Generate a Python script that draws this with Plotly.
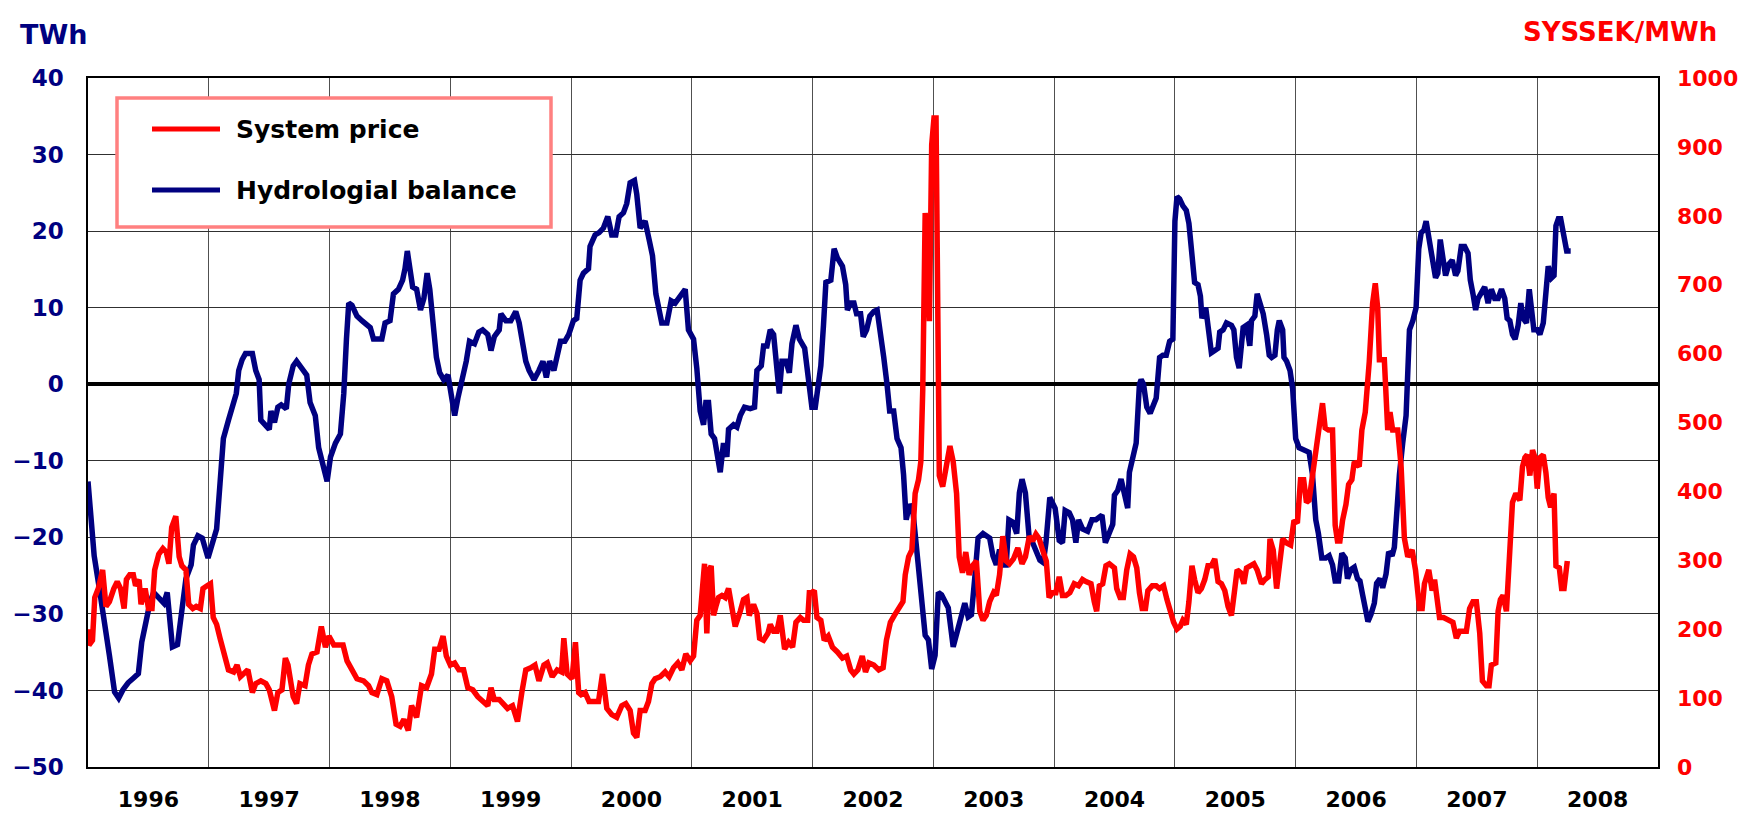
import plotly.graph_objects as go

# ---------------- data ----------------
hydro_year = [
    1996.000, 1996.023, 1996.051, 1996.093, 1996.135, 1996.177, 1996.220, 1996.254, 1996.290, 1996.332,
    1996.375, 1996.417, 1996.445, 1996.473, 1996.515, 1996.544, 1996.586, 1996.628, 1996.656, 1996.699,
    1996.741, 1996.777, 1996.811, 1996.854, 1996.873, 1996.910, 1996.946, 1996.994, 1997.037, 1997.065,
    1997.093, 1997.121, 1997.163, 1997.206, 1997.228, 1997.248, 1997.276, 1997.304, 1997.361, 1997.389,
    1997.417, 1997.431, 1997.473, 1997.501, 1997.515, 1997.544, 1997.572, 1997.600, 1997.642, 1997.662,
    1997.699, 1997.727, 1997.769, 1997.811, 1997.839, 1997.882, 1997.910, 1997.952, 1997.980, 1998.008,
    1998.049, 1998.090, 1998.118, 1998.140, 1998.159, 1998.186, 1998.227, 1998.268, 1998.310, 1998.337,
    1998.364, 1998.433, 1998.460, 1998.501, 1998.529, 1998.570, 1998.605, 1998.625, 1998.644, 1998.666,
    1998.688, 1998.721, 1998.753, 1998.781, 1998.808, 1998.830, 1998.858, 1998.885, 1998.912, 1998.945,
    1998.981, 1999.008, 1999.036, 1999.063, 1999.090, 1999.132, 1999.159, 1999.200, 1999.236, 1999.268,
    1999.310, 1999.337, 1999.364, 1999.405, 1999.419, 1999.460, 1999.501, 1999.542, 1999.570, 1999.597,
    1999.625, 1999.652, 1999.693, 1999.734, 1999.767, 1999.795, 1999.822, 1999.858, 1999.885, 1999.912,
    1999.948, 1999.981, 2000.019, 2000.047, 2000.075, 2000.102, 2000.144, 2000.157, 2000.199, 2000.232,
    2000.268, 2000.304, 2000.337, 2000.370, 2000.398, 2000.434, 2000.461, 2000.489, 2000.525, 2000.544,
    2000.572, 2000.613, 2000.646, 2000.674, 2000.702, 2000.751, 2000.793, 2000.829, 2000.862, 2000.903,
    2000.945, 2000.972, 2001.014, 2001.041, 2001.069, 2001.097, 2001.116, 2001.138, 2001.160, 2001.188,
    2001.215, 2001.235, 2001.262, 2001.290, 2001.304, 2001.345, 2001.373, 2001.401, 2001.436, 2001.483,
    2001.519, 2001.539, 2001.575, 2001.594, 2001.622, 2001.649, 2001.677, 2001.704, 2001.724, 2001.746,
    2001.779, 2001.807, 2001.829, 2001.862, 2001.890, 2001.934, 2001.967, 2001.994, 2002.022, 2002.050,
    2002.068, 2002.090, 2002.110, 2002.151, 2002.178, 2002.205, 2002.247, 2002.274, 2002.288, 2002.315,
    2002.342, 2002.364, 2002.397, 2002.419, 2002.447, 2002.474, 2002.507, 2002.534, 2002.567, 2002.589,
    2002.616, 2002.638, 2002.671, 2002.699, 2002.732, 2002.753, 2002.775, 2002.803, 2002.830, 2002.863,
    2002.890, 2002.918, 2002.932, 2002.959, 2002.986, 2003.014, 2003.041, 2003.068, 2003.096, 2003.123,
    2003.164, 2003.192, 2003.219, 2003.260, 2003.288, 2003.315, 2003.342, 2003.370, 2003.411, 2003.466,
    2003.493, 2003.521, 2003.548, 2003.575, 2003.603, 2003.625, 2003.658, 2003.690, 2003.712, 2003.734,
    2003.762, 2003.795, 2003.822, 2003.849, 2003.882, 2003.910, 2003.932, 2003.964, 2004.008, 2004.042,
    2004.069, 2004.091, 2004.125, 2004.152, 2004.180, 2004.202, 2004.235, 2004.277, 2004.313, 2004.346,
    2004.374, 2004.396, 2004.424, 2004.457, 2004.485, 2004.499, 2004.526, 2004.554, 2004.582, 2004.609,
    2004.623, 2004.651, 2004.679, 2004.706, 2004.720, 2004.740, 2004.767, 2004.795, 2004.817, 2004.845,
    2004.873, 2004.900, 2004.928, 2004.956, 2004.983, 2005.000, 2005.017, 2005.039, 2005.066, 2005.094,
    2005.116, 2005.136, 2005.150, 2005.163, 2005.191, 2005.211, 2005.224, 2005.255, 2005.283, 2005.302,
    2005.330, 2005.357, 2005.371, 2005.399, 2005.427, 2005.468, 2005.488, 2005.510, 2005.532, 2005.551,
    2005.565, 2005.593, 2005.620, 2005.634, 2005.662, 2005.681, 2005.704, 2005.731, 2005.759, 2005.781,
    2005.801, 2005.828, 2005.848, 2005.864, 2005.892, 2005.903, 2005.925, 2005.953, 2005.975, 2005.990,
    2006.000, 2006.028, 2006.069, 2006.111, 2006.139, 2006.166, 2006.188, 2006.216, 2006.249, 2006.277,
    2006.305, 2006.327, 2006.355, 2006.382, 2006.410, 2006.429, 2006.457, 2006.485, 2006.512, 2006.532,
    2006.554, 2006.582, 2006.598, 2006.623, 2006.651, 2006.670, 2006.698, 2006.720, 2006.748, 2006.770,
    2006.798, 2006.817, 2006.831, 2006.859, 2006.886, 2006.914, 2006.942, 2006.970, 2006.997, 2007.019,
    2007.039, 2007.061, 2007.080, 2007.102, 2007.130, 2007.158, 2007.177, 2007.197, 2007.219, 2007.241,
    2007.269, 2007.296, 2007.324, 2007.343, 2007.371, 2007.399, 2007.427, 2007.446, 2007.468, 2007.490,
    2007.510, 2007.537, 2007.565, 2007.593, 2007.620, 2007.648, 2007.676, 2007.704, 2007.731, 2007.751,
    2007.773, 2007.795, 2007.817, 2007.842, 2007.864, 2007.884, 2007.911, 2007.934, 2007.953, 2007.972,
    2008.000, 2008.022, 2008.050, 2008.072, 2008.091, 2008.119, 2008.139, 2008.155, 2008.175, 2008.194,
    2008.216, 2008.230, 2008.244, 2008.277,
]
hydro_twh = [
    -12.7, -17.7, -22.4, -26.6, -30.7, -35.4, -40.2, -41.0, -39.9, -39.0,
    -38.4, -37.8, -33.7, -31.3, -28.4, -27.2, -27.8, -28.6, -27.2, -34.3,
    -34.0, -29.5, -25.4, -23.6, -21.0, -19.8, -20.1, -22.7, -20.4, -18.9,
    -13.0, -7.1, -4.7, -2.1, -1.2, 1.8, 3.2, 4.0, 4.0, 1.8,
    0.6, -4.7, -5.6, -5.9, -3.5, -5.0, -3.0, -2.7, -3.2, 0.0,
    2.4, 3.0, 2.1, 1.2, -2.4, -4.1, -8.3, -10.6, -12.7, -9.5,
    -7.7, -6.5, -1.2, 5.9, 10.6, 10.3, 8.9, 8.3, 7.7, 7.4,
    5.9, 5.9, 8.0, 8.3, 11.8, 12.4, 13.6, 15.1, 17.4, 14.8,
    12.7, 12.4, 9.7, 11.2, 14.5, 12.4, 7.1, 3.5, 1.5, 0.6,
    1.2, -1.8, -4.1, -1.8, 0.0, 3.0, 5.6, 5.3, 6.8, 7.1,
    6.5, 4.4, 6.2, 7.1, 9.2, 8.3, 8.3, 9.5, 8.0, 5.3,
    3.0, 1.8, 0.6, 1.8, 3.0, 0.9, 3.0, 1.8, 3.5, 5.6,
    5.6, 6.5, 8.3, 8.6, 13.6, 14.5, 15.1, 18.0, 19.5, 19.8,
    20.4, 21.9, 19.5, 19.5, 21.9, 22.4, 23.6, 26.3, 26.6, 24.8,
    20.4, 21.3, 18.9, 16.8, 11.8, 8.0, 8.0, 10.9, 10.6, 11.5,
    12.4, 7.1, 5.9, 2.1, -3.5, -5.3, -2.4, -2.4, -6.5, -7.1,
    -9.5, -11.5, -7.7, -9.5, -5.9, -5.3, -5.6, -4.1, -3.0, -3.2,
    -3.0, 1.8, 2.4, 5.0, 5.0, 7.1, 6.5, 2.4, -1.2, 3.0,
    3.0, 1.5, 5.3, 7.7, 5.9, 4.7, 0.6, -3.0, -3.0, 0.0,
    2.4, 7.7, 13.3, 13.6, 17.7, 16.5, 15.4, 13.0, 9.7, 10.6,
    10.6, 9.2, 9.2, 6.2, 7.1, 8.9, 9.5, 9.7, 6.5, 3.5,
    0.0, -3.5, -3.5, -7.1, -8.3, -11.8, -17.7, -15.7, -16.5, -21.3,
    -25.4, -29.5, -32.8, -33.4, -37.2, -35.4, -27.2, -27.5, -28.4, -29.2,
    -34.3, -32.5, -31.0, -28.6, -30.4, -30.1, -25.4, -20.1, -19.5, -20.1,
    -22.4, -23.6, -21.6, -23.6, -23.6, -17.7, -18.0, -19.5, -14.2, -12.4,
    -14.2, -20.4, -20.7, -21.9, -23.0, -23.3, -20.7, -14.8, -16.2, -20.4,
    -20.7, -16.5, -16.8, -17.7, -20.7, -17.7, -18.9, -19.2, -17.7, -17.7,
    -17.4, -17.1, -20.7, -19.5, -18.3, -14.5, -13.9, -12.4, -14.8, -16.2,
    -11.5, -9.5, -7.7, 0.0, 0.6, 0.0, -3.0, -3.8, -3.0, -1.8,
    3.5, 3.8, 3.8, 5.6, 5.9, 21.3, 24.5, 24.2, 23.3, 22.7,
    21.0, 17.7, 14.2, 13.3, 13.0, 11.5, 8.6, 10.0, 6.5, 4.1,
    4.4, 4.7, 6.8, 7.1, 8.0, 7.7, 7.1, 3.5, 2.1, 4.7,
    7.4, 7.7, 5.0, 8.3, 8.9, 11.8, 10.6, 9.2, 6.5, 3.8,
    3.5, 3.8, 7.1, 8.3, 7.1, 3.5, 3.0, 1.8, -0.6, -3.5,
    -7.1, -8.3, -8.6, -8.9, -11.8, -17.7, -19.5, -22.7, -22.7, -22.4,
    -23.6, -25.7, -25.7, -22.1, -22.7, -25.4, -24.2, -23.9, -25.4, -25.7,
    -27.5, -29.5, -31.0, -30.1, -28.6, -26.0, -25.4, -26.6, -24.8, -21.9,
    -22.4, -21.3, -17.7, -11.8, -7.7, -4.1, 7.1, 8.3, 10.0, 17.7,
    19.8, 20.1, 21.3, 18.9, 16.5, 13.9, 14.5, 18.9, 16.5, 14.2,
    15.7, 16.2, 14.2, 14.8, 18.0, 18.0, 17.1, 13.6, 11.8, 9.7,
    11.2, 12.1, 12.7, 10.6, 12.4, 11.2, 11.2, 12.4, 11.2, 8.6,
    8.3, 6.5, 5.9, 7.7, 10.6, 8.6, 8.0, 12.4, 9.5, 7.1,
    7.1, 6.5, 8.0, 11.8, 15.4, 13.9, 14.2, 20.7, 21.6, 21.6,
    20.1, 18.9, 17.4, 17.4,
]

price_year = [
    1996.000, 1996.008, 1996.037, 1996.056, 1996.085, 1996.121, 1996.149, 1996.177, 1996.214, 1996.242,
    1996.270, 1996.299, 1996.318, 1996.346, 1996.375, 1996.394, 1996.423, 1996.439, 1996.473, 1996.501,
    1996.530, 1996.552, 1996.586, 1996.620, 1996.648, 1996.670, 1996.693, 1996.727, 1996.755, 1996.777,
    1996.811, 1996.834, 1996.868, 1996.896, 1996.930, 1996.952, 1996.986, 1997.014, 1997.037, 1997.065,
    1997.093, 1997.121, 1997.163, 1997.206, 1997.234, 1997.262, 1997.290, 1997.324, 1997.361, 1997.389,
    1997.431, 1997.473, 1997.501, 1997.544, 1997.572, 1997.606, 1997.634, 1997.656, 1997.699, 1997.727,
    1997.755, 1997.797, 1997.825, 1997.854, 1997.896, 1997.932, 1997.966, 1997.995, 1998.036, 1998.077,
    1998.112, 1998.145, 1998.186, 1998.227, 1998.282, 1998.323, 1998.351, 1998.392, 1998.433, 1998.474,
    1998.515, 1998.551, 1998.584, 1998.616, 1998.652, 1998.679, 1998.721, 1998.762, 1998.803, 1998.844,
    1998.871, 1998.907, 1998.940, 1998.967, 1999.000, 1999.036, 1999.071, 1999.110, 1999.145, 1999.186,
    1999.227, 1999.268, 1999.310, 1999.337, 1999.364, 1999.405, 1999.447, 1999.474, 1999.515, 1999.556,
    1999.592, 1999.625, 1999.666, 1999.701, 1999.734, 1999.775, 1999.803, 1999.844, 1999.885, 1999.921,
    1999.940, 1999.967, 2000.008, 2000.036, 2000.063, 2000.083, 2000.116, 2000.149, 2000.185, 2000.227,
    2000.260, 2000.296, 2000.337, 2000.378, 2000.420, 2000.453, 2000.489, 2000.517, 2000.544, 2000.572,
    2000.613, 2000.641, 2000.669, 2000.696, 2000.738, 2000.779, 2000.812, 2000.848, 2000.884, 2000.917,
    2000.950, 2000.986, 2001.014, 2001.041, 2001.069, 2001.088, 2001.105, 2001.124, 2001.144, 2001.160,
    2001.180, 2001.199, 2001.221, 2001.249, 2001.276, 2001.304, 2001.331, 2001.359, 2001.401, 2001.428,
    2001.456, 2001.475, 2001.511, 2001.539, 2001.561, 2001.594, 2001.630, 2001.649, 2001.677, 2001.704,
    2001.732, 2001.768, 2001.801, 2001.834, 2001.862, 2001.898, 2001.925, 2001.959, 2001.973, 2001.992,
    2002.014, 2002.036, 2002.068, 2002.096, 2002.129, 2002.164, 2002.205, 2002.247, 2002.282, 2002.315,
    2002.342, 2002.375, 2002.411, 2002.438, 2002.466, 2002.507, 2002.548, 2002.584, 2002.611, 2002.644,
    2002.677, 2002.712, 2002.748, 2002.767, 2002.795, 2002.822, 2002.849, 2002.877, 2002.896, 2002.912,
    2002.932, 2002.951, 2002.967, 2002.986, 2003.005, 2003.022, 2003.033, 2003.049, 2003.077, 2003.104,
    2003.137, 2003.164, 2003.192, 2003.214, 2003.241, 2003.268, 2003.296, 2003.323, 2003.356, 2003.384,
    2003.411, 2003.438, 2003.466, 2003.499, 2003.521, 2003.548, 2003.575, 2003.603, 2003.630, 2003.663,
    2003.699, 2003.734, 2003.762, 2003.795, 2003.822, 2003.849, 2003.877, 2003.904, 2003.935, 2003.958,
    2003.986, 2004.014, 2004.042, 2004.069, 2004.097, 2004.130, 2004.166, 2004.202, 2004.235, 2004.263,
    2004.305, 2004.332, 2004.352, 2004.374, 2004.402, 2004.429, 2004.457, 2004.499, 2004.518, 2004.546,
    2004.573, 2004.601, 2004.629, 2004.657, 2004.684, 2004.706, 2004.729, 2004.756, 2004.776, 2004.812,
    2004.845, 2004.873, 2004.906, 2004.934, 2004.961, 2004.989, 2005.017, 2005.044, 2005.066, 2005.094,
    2005.116, 2005.141, 2005.163, 2005.191, 2005.219, 2005.247, 2005.274, 2005.302, 2005.330, 2005.357,
    2005.385, 2005.413, 2005.440, 2005.468, 2005.496, 2005.515, 2005.543, 2005.571, 2005.593, 2005.626,
    2005.654, 2005.681, 2005.717, 2005.745, 2005.773, 2005.787, 2005.814, 2005.842, 2005.864, 2005.892,
    2005.925, 2005.958, 2005.986, 2006.014, 2006.040, 2006.066, 2006.089, 2006.111, 2006.139, 2006.166,
    2006.194, 2006.222, 2006.244, 2006.271, 2006.305, 2006.327, 2006.346, 2006.366, 2006.388, 2006.416,
    2006.438, 2006.465, 2006.485, 2006.526, 2006.548, 2006.576, 2006.609, 2006.637, 2006.659, 2006.679,
    2006.693, 2006.734, 2006.762, 2006.781, 2006.803, 2006.845, 2006.873, 2006.900, 2006.928, 2006.964,
    2006.992, 2007.025, 2007.047, 2007.066, 2007.102, 2007.130, 2007.150, 2007.163, 2007.191, 2007.224,
    2007.260, 2007.302, 2007.330, 2007.357, 2007.385, 2007.413, 2007.440, 2007.468, 2007.496, 2007.524,
    2007.546, 2007.579, 2007.601, 2007.620, 2007.657, 2007.676, 2007.695, 2007.717, 2007.745, 2007.767,
    2007.795, 2007.823, 2007.856, 2007.878, 2007.898, 2007.917, 2007.939, 2007.961, 2007.981, 2008.000,
    2008.022, 2008.050, 2008.072, 2008.091, 2008.111, 2008.139, 2008.155, 2008.183, 2008.202, 2008.222,
    2008.238, 2008.249,
]
price_sek = [
    200, 177, 184, 246, 259, 286, 233, 240, 259, 269,
    259, 230, 272, 279, 279, 263, 272, 236, 259, 230,
    230, 286, 309, 317, 312, 295, 348, 364, 305, 292,
    286, 236, 230, 233, 230, 259, 263, 266, 217, 207,
    187, 167, 141, 138, 148, 131, 135, 141, 108, 121,
    125, 121, 112, 82, 108, 112, 158, 148, 102, 92,
    121, 118, 148, 164, 167, 204, 174, 190, 177, 177,
    177, 154, 141, 128, 125, 118, 108, 105, 128, 125,
    102, 62, 59, 69, 53, 89, 72, 118, 115, 135,
    171, 171, 190, 161, 148, 151, 141, 141, 115, 112,
    102, 95, 89, 115, 98, 98, 89, 85, 89, 66,
    108, 141, 144, 148, 125, 148, 151, 131, 141, 138,
    187, 135, 128, 181, 108, 105, 108, 95, 95, 95,
    135, 85, 76, 72, 89, 92, 82, 49, 43, 82,
    82, 95, 121, 128, 131, 138, 131, 144, 151, 141,
    164, 154, 161, 213, 220, 253, 295, 194, 286, 292,
    220, 233, 246, 249, 246, 259, 233, 204, 226, 243,
    246, 220, 236, 223, 187, 184, 194, 207, 197, 197,
    220, 171, 181, 174, 210, 217, 213, 213, 253, 253,
    256, 217, 213, 184, 190, 174, 167, 158, 161, 141,
    135, 141, 161, 138, 151, 148, 141, 144, 184, 210,
    220, 230, 240, 279, 305, 315, 397, 417, 443, 548,
    804, 752, 647, 903, 942, 942, 686, 423, 407, 430,
    466, 443, 397, 305, 282, 312, 279, 292, 299, 226,
    213, 220, 240, 253, 249, 279, 335, 299, 295, 302,
    318, 295, 305, 335, 328, 338, 331, 315, 299, 246,
    253, 253, 276, 249, 249, 253, 266, 263, 272, 269,
    266, 240, 226, 263, 266, 292, 295, 289, 259, 246,
    246, 286, 309, 305, 289, 253, 230, 230, 256, 263,
    263, 259, 263, 243, 226, 210, 200, 204, 213, 207,
    240, 292, 272, 253, 259, 272, 292, 292, 302, 269,
    266, 256, 233, 220, 259, 286, 282, 266, 289, 292,
    295, 286, 266, 272, 276, 331, 315, 259, 299, 331,
    325, 322, 358, 354, 417, 417, 384, 387, 423, 456,
    502, 528, 492, 489, 489, 351, 328, 328, 358, 381,
    410, 417, 443, 436, 489, 515, 588, 673, 702, 666,
    591, 591, 489, 515, 489, 489, 436, 332, 305, 315,
    286, 230, 230, 266, 286, 256, 272, 256, 217, 217,
    213, 210, 187, 197, 197, 197, 230, 240, 240, 194,
    125, 118, 118, 148, 151, 226, 243, 249, 226, 286,
    384, 397, 387, 436, 449, 453, 423, 460, 449, 404,
    449, 453, 427, 391, 377, 397, 292, 289, 259, 259,
    292, 299,
]

years = list(range(1996, 2009))
year_labels = ["1996", "1997", "1998", "1999", "2000", "2001", "2002",
               "2003", "2004", "2005", "2006", "2007", "2008"]

# ---------------- layout geometry ----------------
W, H = 1756, 816
L, R, T, B = 80, 106, 70, 57
PW = W - L - R
PH = H - T - B


def px(x):
    return (x - L) / PW


def py(y):
    return (H - B - y) / PH


FONT = "DejaVu Sans"
NAVY = "#000080"
RED = "#FF0000"

fig = go.Figure()
fig.add_trace(go.Scatter(
    x=hydro_year, y=hydro_twh, mode="lines", name="Hydrologial balance",
    line=dict(color=NAVY, width=5.5), yaxis="y"))
fig.add_trace(go.Scatter(
    x=price_year, y=price_sek, mode="lines", name="System price",
    line=dict(color=RED, width=5.5), yaxis="y2"))

fig.update_layout(
    width=W, height=H,
    margin=dict(l=L, r=R, t=T, b=B, autoexpand=False),
    paper_bgcolor="white", plot_bgcolor="white",
    showlegend=False,
    font=dict(family=FONT, size=22, color="black"),
    xaxis=dict(
        range=[1996, 2009],
        tickmode="array",
        tickvals=[y + 0.5 for y in years],
        ticktext=year_labels,
        showgrid=False, zeroline=False,
        showline=True, mirror=True, linecolor="black", linewidth=1.5,
        ticks="",
        tickfont=dict(family=FONT, size=22, color="black", weight="bold"),
        ticklabelstandoff=12,
        minor=dict(tickmode="array", tickvals=years[1:], showgrid=True,
                   gridcolor="#505050", gridwidth=1, ticks=""),
    ),
    yaxis=dict(
        range=[-50, 40], tick0=0, dtick=10,
        showgrid=True, gridcolor="#303030", gridwidth=1,
        zeroline=True, zerolinecolor="black", zerolinewidth=3.5,
        showline=True, mirror=True, linecolor="black", linewidth=1.5,
        ticks="",
        tickfont=dict(family=FONT, size=23, color=NAVY, weight="bold"),
        ticklabelstandoff=18,
    ),
    yaxis2=dict(
        range=[0, 1000], tick0=0, dtick=100,
        overlaying="y", side="right",
        showgrid=False, zeroline=False, showline=False,
        ticks="",
        tickfont=dict(family=FONT, size=22, color=RED, weight="bold"),
        ticklabelstandoff=18,
    ),
)

# axis titles
fig.add_annotation(text="<b>TWh</b>", x=px(45), y=py(27), xref="paper", yref="paper",
                   showarrow=False, xanchor="center", yanchor="middle",
                   font=dict(family=FONT, size=27, color=NAVY))
fig.add_annotation(text="<b>SYSSEK/MWh</b>", x=px(1612), y=py(24), xref="paper", yref="paper",
                   showarrow=False, xanchor="center", yanchor="middle",
                   font=dict(family=FONT, size=26, color=RED))

# legend box (drawn manually to match the original)
fig.add_shape(type="rect", xref="paper", yref="paper",
              x0=px(109), x1=px(543), y0=py(219), y1=py(90),
              line=dict(color="#FF8080", width=3.5), fillcolor="white", layer="above")
legend_items = [("System price", RED, 121), ("Hydrologial balance", NAVY, 182)]
for label, color, ypix in legend_items:
    fig.add_shape(type="line", xref="paper", yref="paper",
                  x0=px(144), x1=px(212), y0=py(ypix), y1=py(ypix),
                  line=dict(color=color, width=5), layer="above")
    fig.add_annotation(text="<b>" + label + "</b>", x=px(226), y=py(ypix),
                       xref="paper", yref="paper", showarrow=False,
                       xanchor="left", yanchor="middle",
                       font=dict(family=FONT, size=25, color="black"))

fig.write_html("out.html")
